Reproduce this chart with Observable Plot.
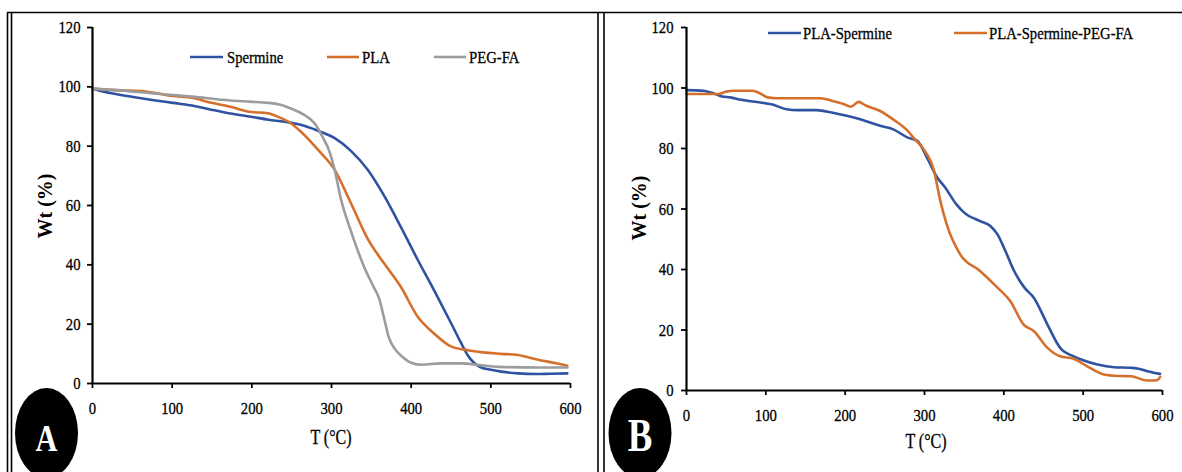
<!DOCTYPE html>
<html><head><meta charset="utf-8">
<script src="https://cdn.jsdelivr.net/npm/d3@7"></script>
<script src="https://cdn.jsdelivr.net/npm/@observablehq/plot@0.6"></script>
<style>
html,body{margin:0;padding:0;background:#fff;}
#root{position:relative;width:1182px;height:472px;overflow:hidden;font-family:"Liberation Serif","Times New Roman",serif;}
.panel{position:absolute;top:0;}
#overlay{position:absolute;left:0;top:0;}
.panel text, #overlay text.dark{stroke:#000;stroke-width:0.3px;}
</style></head><body><div id="root"></div>
<script>
// ---------- data ----------
const xTicks = [0, 100, 200, 300, 400, 500, 600];
const yTicks = [0, 20, 40, 60, 80, 100, 120];
const xLabel = "T (°C)";
const yLabel = "Wt (%)";
const panelLetters = ["A", "B"];

// Panel A
const namesA = ["Spermine", "PLA", "PEG-FA"];
const spermineT = [0, 10, 29, 53, 77, 101, 125, 149, 173, 197, 221, 241, 260, 283, 304, 324, 345, 366, 387, 408, 429, 450, 462, 471, 486, 500, 513, 534, 558, 575, 596];
const spermineW = [99.4, 98.6, 97.6, 96.5, 95.5, 94.6, 93.7, 92.3, 91.0, 90.0, 88.9, 88.2, 87.3, 85.2, 82.7, 78.5, 72.2, 63.3, 52.8, 41.8, 31.3, 20.4, 14.0, 9.5, 5.6, 4.6, 4.0, 3.4, 3.2, 3.3, 3.4];
const plaT = [0, 29, 62, 77, 101, 125, 149, 173, 197, 220, 233, 245, 262, 283, 304, 324, 346, 366, 387, 408, 429, 450, 471, 490, 513, 534, 558, 582, 596];
const plaW = [99.4, 98.9, 98.6, 98.0, 96.9, 96.3, 94.6, 93.3, 91.6, 91.1, 89.9, 88.4, 84.8, 78.8, 72.0, 61.0, 48.5, 40.5, 32.6, 22.6, 16.8, 12.5, 11.2, 10.5, 10.0, 9.6, 8.1, 6.8, 6.0];
const pegfaT = [0, 29, 77, 125, 173, 197, 221, 236, 250, 264, 279, 290, 297, 304, 312, 324, 341, 353, 360, 366, 372, 380, 390, 400, 413, 437, 462, 486, 510, 558, 596];
const pegfaW = [99.4, 98.9, 97.8, 96.7, 95.4, 95.0, 94.6, 94.0, 92.6, 90.8, 87.6, 82.5, 78.5, 72.0, 62.0, 51.7, 39.3, 32.5, 28.5, 22.0, 15.5, 11.5, 8.8, 7.0, 6.3, 6.8, 6.8, 6.2, 5.6, 5.4, 5.4];

// Panel B
const namesB = ["PLA-Spermine", "PLA-Spermine-PEG-FA"];
const plaSpT = [0, 21, 31, 45, 55, 69, 93, 107, 126, 140, 164, 183, 202, 221, 244, 260, 279, 291, 302, 316, 326, 340, 350, 370, 383, 392, 402, 413, 426, 438, 455, 471, 488, 500, 518, 539, 560, 568, 581, 597];
const plaSpW = [99.3, 99.1, 98.5, 97.2, 96.9, 96.1, 95.2, 94.6, 93.0, 92.7, 92.7, 91.9, 90.8, 89.5, 87.5, 86.4, 83.6, 82.5, 77.6, 70.4, 67.1, 61.6, 58.8, 56.0, 54.4, 51.6, 46.1, 39.5, 34.0, 30.6, 21.8, 14.1, 11.3, 10.0, 8.6, 7.7, 7.5, 7.3, 6.4, 5.5];
const plaSpPegT = [0, 21, 40, 50, 60, 83, 93, 102, 117, 140, 169, 183, 198, 207, 217, 226, 244, 260, 279, 286, 299, 312, 320, 328, 345, 370, 392, 408, 425, 438, 455, 471, 488, 505, 526, 545, 560, 581, 593, 597];
const plaSpPegW = [98.0, 98.0, 98.0, 98.8, 99.1, 99.1, 98.2, 96.9, 96.6, 96.6, 96.6, 95.8, 94.7, 93.8, 95.4, 94.2, 92.4, 89.7, 85.8, 83.6, 79.7, 72.6, 62.6, 54.9, 45.0, 39.5, 34.0, 29.6, 21.8, 19.6, 14.1, 11.3, 10.5, 8.0, 5.3, 4.8, 4.7, 3.3, 3.4, 4.5];

const colorsA = ["#2F53A2", "#D5702C", "#9C9C9C"];
const colorsB = ["#2F53A2", "#D5702C"];

// ---------- helpers ----------
const FONT = '"Liberation Serif","Times New Roman",serif';
const SX = 0.84; // horizontal squeeze of the reference's text

function toRows(names, Ts, Ws) {
  return names.flatMap((n, k) => Ts[k].map((t, i) => ({T: t, W: Ws[k][i], name: n})));
}

// squeeze a text horizontally about its own anchor point
function squeeze(textSel, s) {
  textSel.each(function () {
    const el = d3.select(this);
    const xs = el.attr("x");
    const x = xs != null && /^-?[\d.]+$/.test(xs.trim()) ? +xs : 0;
    const tr = el.attr("transform") || "";
    el.attr("transform", `${tr} translate(${x},0) scale(${s},1) translate(${-x},0)`);
  });
}

function panel(cfg) {
  const rows = toRows(cfg.names, cfg.Ts, cfg.Ws);
  const chart = Plot.plot({
    width: cfg.width, height: 472,
    marginLeft: cfg.mL, marginRight: cfg.mR, marginTop: cfg.mT, marginBottom: cfg.mB,
    style: {fontFamily: FONT, fontSize: "17.5px", color: "#000", background: "transparent", overflow: "visible"},
    x: {domain: [0, 600]},
    y: {domain: [0, 120]},
    color: {domain: cfg.names, range: cfg.colors},
    marks: [
      Plot.line(rows, {x: "T", y: "W", z: "name", stroke: "name", strokeWidth: 2.6, curve: "monotone-x"}),
      Plot.axisX({ticks: xTicks, tickSize: 5, tickPadding: 13, strokeWidth: 1.8, label: null}),
      Plot.axisY({ticks: yTicks, tickSize: 5, tickPadding: cfg.yPad, strokeWidth: 1.8, label: null}),
      Plot.ruleX([0], {stroke: "#000", strokeWidth: 2.2}),
      Plot.ruleY([0], {stroke: "#000", strokeWidth: 2.2})
    ]
  });
  squeeze(d3.select(chart).selectAll("text"), SX);
  const wrap = document.createElement("div");
  wrap.className = "panel";
  wrap.style.left = cfg.left + "px";
  wrap.appendChild(chart);
  return wrap;
}

const root = document.getElementById("root");
root.appendChild(panel({
  names: namesA, Ts: [spermineT, plaT, pegfaT], Ws: [spermineW, plaW, pegfaW], colors: colorsA,
  left: 0, width: 600, mL: 92, mR: 30, mT: 27, mB: 89, yPad: 7
}));
root.appendChild(panel({
  names: namesB, Ts: [plaSpT, plaSpPegT], Ws: [plaSpW, plaSpPegW], colors: colorsB,
  left: 600, width: 582, mL: 86, mR: 20, mT: 27, mB: 82, yPad: 8
}));

// ---------- overlay: frames, legends, axis titles, panel letters ----------
const ov = d3.select(root).append("svg").attr("id", "overlay")
  .attr("width", 1182).attr("height", 472)
  .style("font-family", FONT).style("pointer-events", "none");

const frame = [
  [7, 12.5, 1182, 12.5],
  [7.5, 12.5, 7.5, 472], [11.5, 12.5, 11.5, 472],
  [598, 12.5, 598, 472], [604, 12.5, 604, 472]
];
ov.selectAll("line.frame").data(frame).join("line").attr("class", "frame")
  .attr("x1", d => d[0]).attr("y1", d => d[1]).attr("x2", d => d[2]).attr("y2", d => d[3])
  .attr("stroke", "#000").attr("stroke-width", 1.6);

function legend(names, colors, items, y) {
  names.forEach((n, i) => {
    const it = items[i];
    ov.append("line").attr("x1", it[0]).attr("x2", it[1]).attr("y1", y).attr("y2", y)
      .attr("stroke", colors[i]).attr("stroke-width", 2.6);
    const t = ov.append("text").attr("class", "dark").attr("x", it[2]).attr("y", y + 6)
      .attr("font-size", 17.5).attr("fill", "#000").text(n);
    squeeze(t, SX);
  });
}
legend(namesA, colorsA, [[190, 223, 227], [327, 359, 362], [434, 466, 469]], 57);
legend(namesB, colorsB, [[768, 801, 803], [954, 987, 989]], 33);

function axisTitles(cx, xBase, yx, yy) {
  const t = ov.append("text").attr("class", "dark").attr("x", cx).attr("y", xBase).attr("text-anchor", "middle")
    .attr("font-size", 20).attr("fill", "#000").text(xLabel);
  squeeze(t, 0.8);
  ov.append("text").attr("transform", `translate(${yx},${yy}) rotate(-90)`)
    .attr("text-anchor", "middle").attr("dy", "0.35em")
    .attr("font-size", 20).attr("font-weight", "bold").attr("fill", "#000").text(yLabel);
}
axisTitles(331, 444, 45, 206);
axisTitles(926, 448, 639, 208);

function letter(ch, cx, cy, size) {
  ov.append("ellipse").attr("cx", cx).attr("cy", cy).attr("rx", 31.5).attr("ry", 45).attr("fill", "#000");
  const t = ov.append("text").attr("x", cx).attr("y", 451).attr("text-anchor", "middle")
    .attr("font-size", size).attr("font-weight", "bold").attr("fill", "#fff").text(ch);
  squeeze(t, 0.8);
}
letter(panelLetters[0], 46.5, 433, 38);
letter(panelLetters[1], 640, 433, 46);
</script></body></html>
